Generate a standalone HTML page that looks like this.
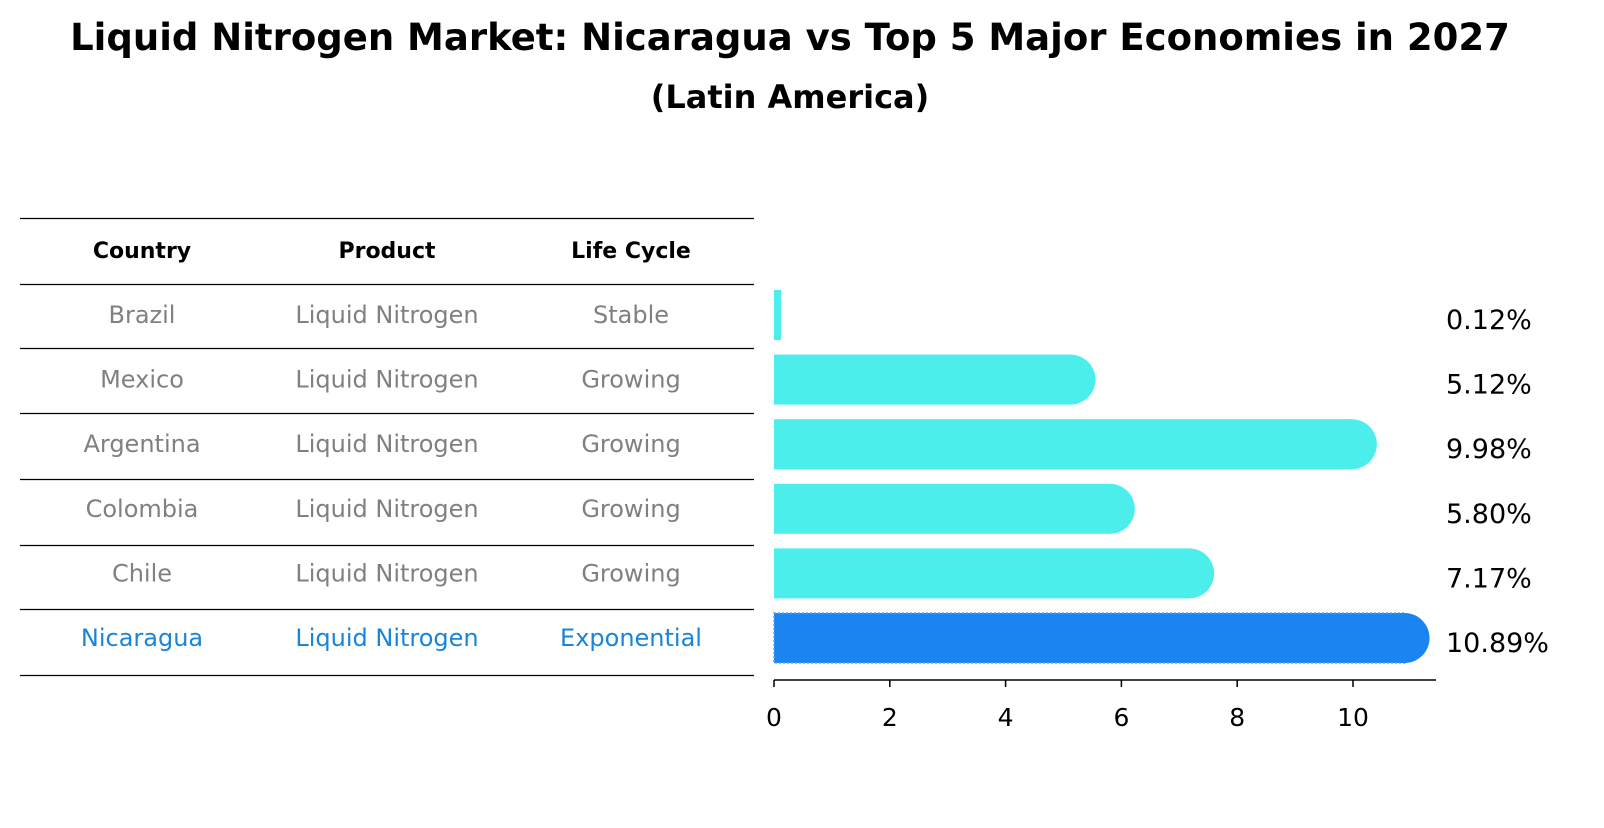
<!DOCTYPE html>
<html><head><meta charset="utf-8"><style>
body{margin:0;background:#fff;font-family:"Liberation Sans","DejaVu Sans",sans-serif;}
</style></head><body>
<svg width="1604" height="823" xmlns="http://www.w3.org/2000/svg" font-family="DejaVu Sans, Liberation Sans, sans-serif">
<text x="790" y="50" text-anchor="middle" font-size="37" font-weight="bold">Liquid Nitrogen Market: Nicaragua vs Top 5 Major Economies in 2027</text>
<text x="790" y="108" text-anchor="middle" font-size="32" font-weight="bold">(Latin America)</text>
<g id="table"></g>
<g id="bars"></g>
</svg>
<script>
const countries=["Brazil","Mexico","Argentina","Colombia","Chile","Nicaragua"];
const products=["Liquid Nitrogen","Liquid Nitrogen","Liquid Nitrogen","Liquid Nitrogen","Liquid Nitrogen","Liquid Nitrogen"];
const lifeCycles=["Stable","Growing","Growing","Growing","Growing","Exponential"];
const values=[0.12,5.12,9.98,5.80,7.17,10.89];
const ticks=[0,2,4,6,8,10];
const NS="http://www.w3.org/2000/svg";
const x0=774,scale=57.9;
const xs=v=>x0+v*scale;
const rowY=i=>315+i*64.6;
function mk(tag,attrs,parent){const e=document.createElementNS(NS,tag);for(const k in attrs)e.setAttribute(k,attrs[k]);parent.appendChild(e);return e;}
const tb=document.getElementById('table');
const lines=[218,284,348,413,479,545,609,675];
lines.forEach(y=>{const l=mk('line',{x1:20,x2:754,y1:y+0.5,y2:y+0.5,stroke:'#000','stroke-width':1.2},tb);

});
const colX=[142,387,631];
["Country","Product","Life Cycle"].forEach((h,j)=>{const t=mk('text',{x:colX[j],y:258,'text-anchor':'middle','font-size':22,'font-weight':'bold'},tb);t.textContent=h;

});
countries.forEach((c,i)=>{
 const col=i===countries.length-1?'#1a85d8':'#808080';
 [c,products[i],lifeCycles[i]].forEach((v,j)=>{const t=mk('text',{x:colX[j],y:rowY(i)+8,'text-anchor':'middle','font-size':24,fill:col},tb);t.textContent=v;
 
 });
});
const bg=document.getElementById('bars');
values.forEach((v,i)=>{
 const last=i===values.length-1;const col=last?'#1a85f0':'#4beeeb';
 const y=rowY(i)-25,h=50;const w=xs(v)-x0;
 const extra=last?{stroke:'#5aaaf5','stroke-width':1.5,'stroke-dasharray':'2 2'}:{};
 const r=mk('rect',Object.assign({x:x0,y:y,width:w,height:h,fill:col},extra),bg);
 
 
 if(w>25){const c=mk('circle',{cx:xs(v),cy:rowY(i),r:25,fill:col},bg);
 
 }
 const t=mk('text',{x:1446,y:rowY(i)+14,'font-size':27},bg);t.textContent=v.toFixed(2)+'%';
 
 
});
const ax=mk('line',{x1:x0,x2:1436,y1:680,y2:680,stroke:'#000','stroke-width':1.5},bg);


ticks.forEach(tk=>{const l=mk('line',{x1:xs(tk),x2:xs(tk),y1:680,y2:687,stroke:'#000','stroke-width':1.5},bg);


const t=mk('text',{x:xs(tk),y:726,'text-anchor':'middle','font-size':25},bg);t.textContent=tk;

});
</script>
</body></html>
